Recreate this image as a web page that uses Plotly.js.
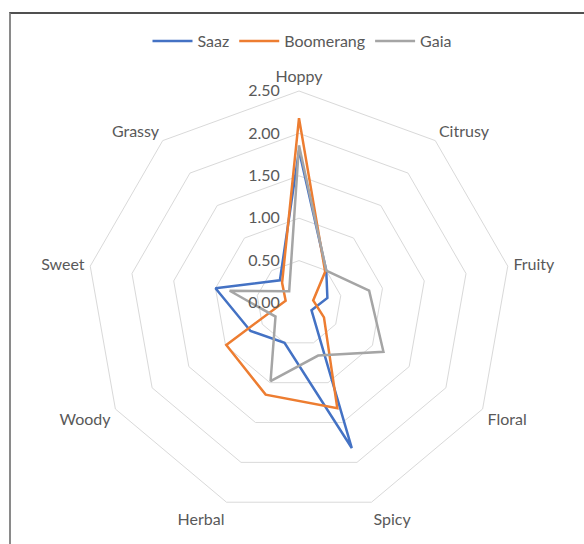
<!DOCTYPE html>
<html>
<head>
<meta charset="utf-8">
<script src="https://cdn.plot.ly/plotly-3.0.1.min.js"></script>
<style>
html,body{margin:0;padding:0;background:#fff;}
#wrap{position:relative;width:584px;height:544px;overflow:hidden;}
#chart{position:absolute;left:0;top:0;width:584px;height:544px;}
#frame{position:absolute;left:9px;top:12px;width:640px;height:640px;border-top:2px solid #505050;border-left:2px solid #8a8a8a;pointer-events:none;}
</style>
</head>
<body>
<div id="wrap"><div id="chart"></div><div id="frame"></div></div>
<script>
const categories = ["Hoppy","Citrusy","Fruity","Floral","Spicy","Herbal","Woody","Sweet","Grassy"];
const saaz      = [1.80, 0.50, 0.34, 0.17, 1.82, 0.50, 0.66, 1.00, 0.35];
const boomerang = [2.18, 0.48, 0.17, 0.34, 1.32, 1.15, 0.99, 0.16, 0.31];
const gaia      = [1.86, 0.50, 0.84, 1.15, 0.66, 0.98, 0.32, 0.83, 0.18];
const seriesNames = ["Saaz","Boomerang","Gaia"];
const seriesColors = ["#4472C4","#ED7D31","#A5A5A5"];
const radialTicks = [0, 0.5, 1, 1.5, 2, 2.5];

const all = [saaz, boomerang, gaia];
const traces = all.map((vals, i) => ({
  type: "scatterpolar",
  mode: "lines",
  name: seriesNames[i],
  r: vals.concat([vals[0]]),
  theta: categories.concat([categories[0]]),
  line: {color: seriesColors[i], width: 2.5},
  hoverinfo: "skip"
}));

const layout = {
  width: 584, height: 544,
  margin: {l: 87, r: 73, t: 91, b: 29},
  paper_bgcolor: "#fff",
  font: {family: "Lato, 'Open Sans', sans-serif", size: 16, color: "#595959"},
  showlegend: true,
  legend: {orientation: "h", x: 0.5 + 10/584, xref: "container", xanchor: "center", y: 1 - 41/544, yref: "container", yanchor: "middle",
           font: {size: 16, color: "#595959"}, itemwidth: 40, tracegroupgap: 0},
  polar: {
    domain: {x: [0, 1], y: [0, 1]},
    gridshape: "linear",
    bgcolor: "rgba(0,0,0,0)",
    radialaxis: {
      range: [0, 2.5], angle: 90, tickangle: 90, side: "counterclockwise",
      tickvals: radialTicks, tickformat: ".2f",
      showline: false, ticks: "outside", ticklen: 13, tickcolor: "rgba(0,0,0,0)",
      gridcolor: "#d9d9d9", gridwidth: 1,
      tickfont: {size: 16, color: "#595959"}
    },
    angularaxis: {
      rotation: 90, direction: "clockwise", categoryorder: "array", categoryarray: categories,
      showgrid: false, showline: true, linecolor: "#d9d9d9", linewidth: 1,
      ticks: "outside", ticklen: 2, tickcolor: "rgba(0,0,0,0)",
      tickfont: {size: 16, color: "#595959"}
    }
  }
};
Plotly.newPlot("chart", traces, layout, {displayModeBar: false, staticPlot: true});
</script>
</body>
</html>
